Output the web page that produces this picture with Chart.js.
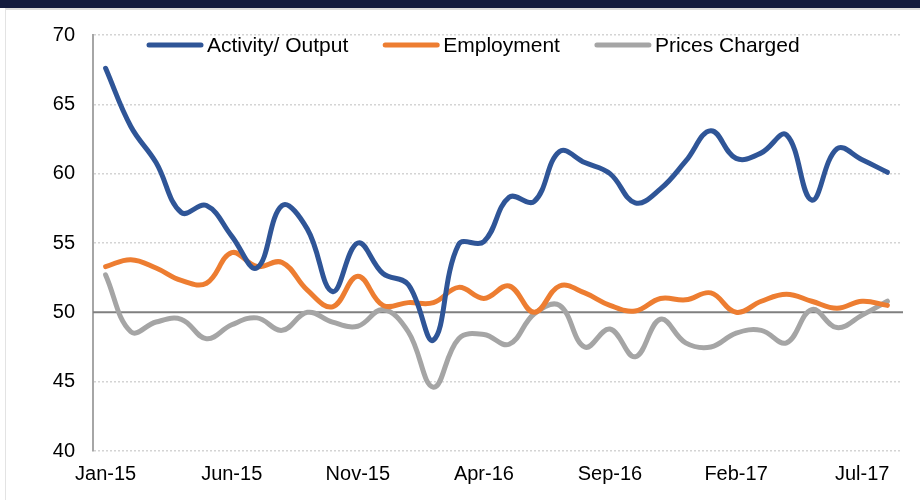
<!DOCTYPE html>
<html lang="en">
<head>
    <meta charset="UTF-8">
    <title>Activity, Employment and Prices Charged</title>
    <script src="https://cdn.jsdelivr.net/npm/chart.js"></script>
    <style>
        body {
            margin: 0;
            padding: 0;
            background: #ffffff;
            width: 920px;
            height: 500px;
            overflow: hidden;
            position: relative;
            font-family: "Liberation Sans", Arial, sans-serif;
        }

        .top-bar {
            position: absolute;
            left: 0;
            top: 0;
            width: 920px;
            height: 8px;
            background: #131b3e;
        }

        .frame {
            position: absolute;
            left: 5px;
            top: 8px;
            width: 920px;
            height: 500px;
            border-left: 1px solid #e3e3e3;
            border-top: 2px solid #dcdcdc;
        }

        .chart-container {
            position: absolute;
            left: 0;
            top: 0;
            width: 920px;
            height: 500px;
        }
    </style>
</head>
<body>
    <div class="top-bar"></div>
    <div class="frame"></div>
    <div class="chart-container">
        <canvas id="pmiChart" width="920" height="500"></canvas>
    </div>

    <script>
        // monthly readings, Jan-15 .. Aug-17
        var months = [
            'Jan-15', 'Feb-15', 'Mar-15', 'Apr-15', 'May-15', 'Jun-15', 'Jul-15', 'Aug-15',
            'Sep-15', 'Oct-15', 'Nov-15', 'Dec-15', 'Jan-16', 'Feb-16', 'Mar-16', 'Apr-16',
            'May-16', 'Jun-16', 'Jul-16', 'Aug-16', 'Sep-16', 'Oct-16', 'Nov-16', 'Dec-16',
            'Jan-17', 'Feb-17', 'Mar-17', 'Apr-17', 'May-17', 'Jun-17', 'Jul-17', 'Aug-17'
        ];

        var activityOutput = [
            67.6, 63.4, 60.8, 57.2, 57.7, 55.5, 53.2, 57.7,
            56.0, 51.5, 55.0, 52.8, 52.0, 48.0, 54.9, 55.1,
            58.3, 58.0, 61.6, 60.8, 60.0, 57.9, 58.9, 60.9,
            63.1, 61.1, 61.5, 62.8, 58.1, 61.8, 61.0, 60.1
        ];

        var employment = [
            53.3, 53.8, 53.2, 52.3, 52.1, 54.3, 53.3, 53.6,
            51.6, 50.4, 52.6, 50.5, 50.7, 50.7, 51.8, 51.0,
            51.9, 50.0, 51.9, 51.4, 50.5, 50.1, 51.0, 50.9,
            51.4, 50.0, 50.8, 51.3, 50.8, 50.3, 50.8, 50.5
        ];

        var pricesCharged = [
            52.7, 48.6, 49.3, 49.5, 48.1, 49.1, 49.6, 48.7,
            50.0, 49.3, 49.0, 50.2, 48.6, 44.6, 48.1, 48.4,
            47.7, 49.9, 50.5, 47.5, 48.8, 46.8, 49.5, 47.8,
            47.5, 48.5, 48.7, 47.8, 50.2, 48.9, 49.8, 50.8
        ];

        var yTicks = [40, 45, 50, 55, 60, 65, 70];
        var labelEvery = 5;

        var fontFamily = '"Liberation Sans", Arial, sans-serif';

        // solid line across the plot at the 50 mark
        var fiftyLine = {
            id: 'fiftyLine',
            beforeDatasetsDraw: function (chart) {
                var ctx = chart.ctx;
                var area = chart.chartArea;
                var y = chart.scales.y.getPixelForValue(50);
                ctx.save();
                ctx.strokeStyle = '#7f7f7f';
                ctx.lineWidth = 2;
                ctx.beginPath();
                ctx.moveTo(area.left, y);
                ctx.lineTo(area.right + 3, y);
                ctx.stroke();
                ctx.restore();
            }
        };

        // legend drawn inside the plot, with line samples
        var lineLegend = {
            id: 'lineLegend',
            afterDraw: function (chart) {
                var ctx = chart.ctx;
                var area = chart.chartArea;
                var x = area.left + 56;
                var y = area.top + 10;
                ctx.save();
                ctx.font = '21px ' + fontFamily;
                ctx.textBaseline = 'middle';
                chart.data.datasets.forEach(function (ds) {
                    ctx.strokeStyle = ds.borderColor;
                    ctx.lineWidth = 5;
                    ctx.lineCap = 'round';
                    ctx.beginPath();
                    ctx.moveTo(x, y);
                    ctx.lineTo(x + 52, y);
                    ctx.stroke();
                    ctx.fillStyle = '#000000';
                    ctx.fillText(ds.label, x + 58, y + 1);
                    x += 58 + ctx.measureText(ds.label).width + 37;
                });
                ctx.restore();
            }
        };

        var ctx = document.getElementById('pmiChart').getContext('2d');

        var pmiChart = new Chart(ctx, {
            type: 'line',
            data: {
                labels: months,
                datasets: [{
                    label: 'Activity/ Output',
                    data: activityOutput,
                    borderColor: '#2f5597',
                    backgroundColor: '#2f5597'
                }, {
                    label: 'Employment',
                    data: employment,
                    borderColor: '#ed7d31',
                    backgroundColor: '#ed7d31'
                }, {
                    label: 'Prices Charged',
                    data: pricesCharged,
                    borderColor: '#a5a5a5',
                    backgroundColor: '#a5a5a5'
                }]
            },
            options: {
                responsive: false,
                animation: false,
                devicePixelRatio: 1,
                layout: {
                    padding: { left: 0, top: 35, right: 20, bottom: 0 }
                },
                elements: {
                    line: {
                        borderWidth: 5,
                        tension: 0.4,
                        borderCapStyle: 'round',
                        borderJoinStyle: 'round',
                        fill: false
                    },
                    point: { radius: 0, hoverRadius: 0 }
                },
                plugins: {
                    legend: { display: false },
                    tooltip: { enabled: false }
                },
                scales: {
                    x: {
                        offset: true,
                        grid: { display: false, drawTicks: false },
                        border: { display: false },
                        afterFit: function (scale) { scale.height = 49; },
                        ticks: {
                            autoSkip: false,
                            maxRotation: 0,
                            padding: 11,
                            color: '#000000',
                            font: { family: fontFamily, size: 20 },
                            callback: function (value, index) {
                                return index % labelEvery === 0 ? months[index] : '';
                            }
                        }
                    },
                    y: {
                        min: 40,
                        max: 70,
                        afterFit: function (scale) { scale.width = 93; },
                        afterBuildTicks: function (scale) {
                            scale.ticks = yTicks.map(function (v) { return { value: v }; });
                        },
                        grid: {
                            drawTicks: false,
                            color: function (c) {
                                return c.tick && c.tick.value === 50 ? 'rgba(0,0,0,0)' : '#d4d4d4';
                            },
                            lineWidth: 1.5
                        },
                        border: {
                            display: true,
                            color: '#a6a6a6',
                            width: 2,
                            dash: [2, 2]
                        },
                        ticks: {
                            autoSkip: false,
                            padding: 18,
                            color: '#000000',
                            font: { family: fontFamily, size: 20 }
                        }
                    }
                }
            },
            plugins: [fiftyLine, lineLegend]
        });
    </script>
</body>
</html>
